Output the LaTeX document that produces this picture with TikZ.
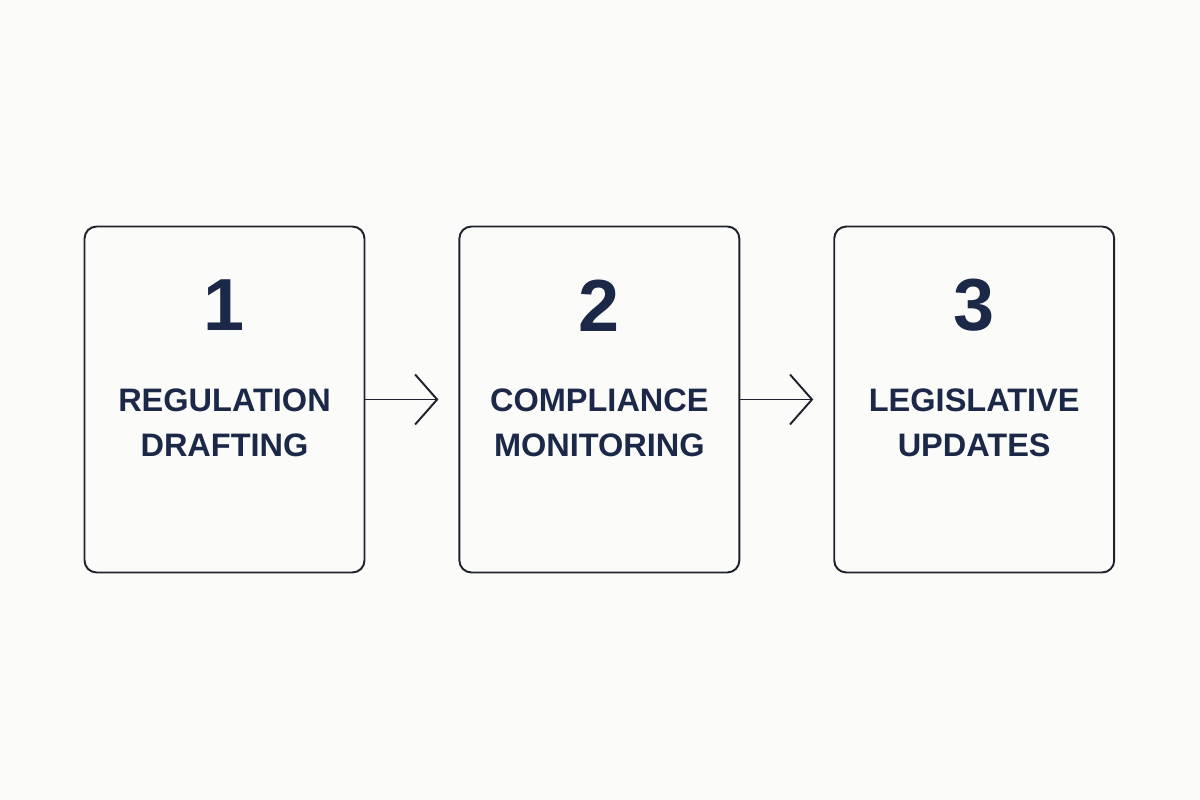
\documentclass[tikz,border=0pt]{standalone}
\usepackage{fontspec}
\setmainfont{Liberation Sans}
\usetikzlibrary{positioning,arrows.meta}
\definecolor{navy}{RGB}{27,40,72}
\definecolor{bordure}{RGB}{30,34,44}
\definecolor{fond}{RGB}{251,251,249}

\begin{document}
\begin{tikzpicture}[x=0.02cm,y=-0.02cm,
  etape/.style={draw=bordure,line width=1.1pt,rounded corners=0.24cm,
    minimum width=5.6cm,minimum height=6.92cm,inner sep=0pt},
  numero/.style={text=navy,font=\fontsize{42}{42}\selectfont\bfseries},
  titre/.style={text=navy,align=center,font=\fontsize{18.5}{25.5}\selectfont\bfseries},
  fleche/.style={draw=bordure,line width=1.1pt,shorten >=0.4cm,
    -{Straight Barb[length=0.44cm,width=1cm,line width=1.1pt]}}]
\fill [fond] (0,0) rectangle (1200,800);
\node [etape] (box1) at (224.5,399.5) {};
\node [etape,right=1.86cm of box1] (box2) {};
\node [etape,right=1.86cm of box2] (box3) {};
\node [numero] (num1) at ([yshift=-1.6cm]box1.north) {1};
\node [numero] (num2) at ([yshift=-1.6cm]box2.north) {2};
\node [numero] (num3) at ([yshift=-1.6cm]box3.north) {3};
\node [titre] (lab1) at ([yshift=-0.46cm]box1.center) {REGULATION\\DRAFTING};
\node [titre] (lab2) at ([yshift=-0.46cm]box2.center) {COMPLIANCE\\MONITORING};
\node [titre] (lab3) at ([yshift=-0.46cm]box3.center) {LEGISLATIVE\\UPDATES};
\draw [fleche] (box1.east) -- (box2.west);
\draw [fleche] (box2.east) -- (box3.west);
\end{tikzpicture}
\end{document}
